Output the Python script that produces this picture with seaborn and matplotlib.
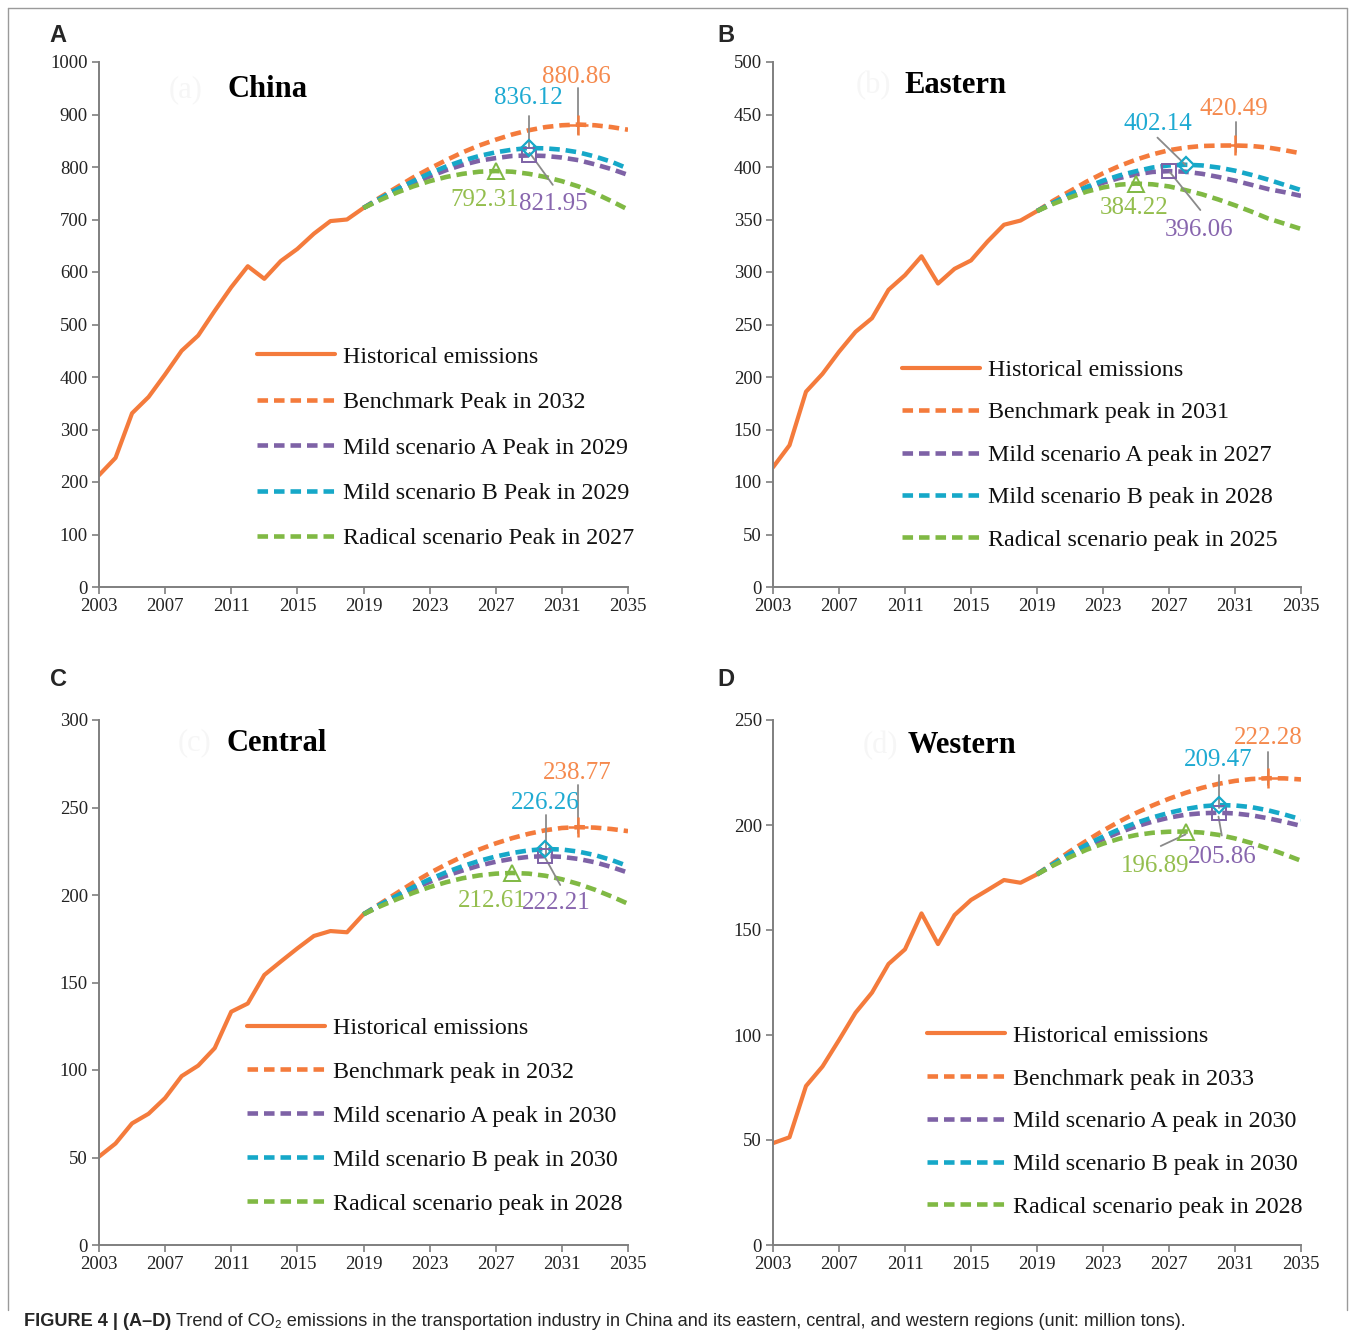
import matplotlib
matplotlib.use('Agg')
import matplotlib.pyplot as plt
import seaborn as sns
from matplotlib.lines import Line2D

# ---- data (million tons of CO2) ----
hist_years = list(range(2003, 2020))
proj_years = list(range(2019, 2036))

china_hist = [213, 246, 331, 362, 405, 450, 479, 526, 571, 611, 587, 621, 644, 673, 697, 700, 722]
china_bench = [722, 742, 761, 780, 797, 813, 828, 841, 852, 862, 870, 876, 879.5, 880.86, 879.5, 876, 871]
china_mild_a = [722, 739, 755, 769, 782, 794, 804, 812, 817, 821, 821.95, 821, 818, 813, 805, 796, 785]
china_mild_b = [722, 740, 757, 773, 788, 801, 812, 821, 828, 833, 836.12, 835.5, 833, 828, 820, 810, 797]
china_radical = [722, 737, 751, 763, 773, 781, 787, 791, 792.31, 791, 787, 781, 773, 763, 750, 735, 719]

east_hist = [114, 135, 186, 203, 224, 243, 256, 283, 297, 315, 289, 303, 311, 329, 345, 349, 358]
east_bench = [358, 368, 377, 386, 394, 401, 407, 412, 416, 418.5, 420, 420.4, 420.49, 420, 418.5, 416, 413]
east_mild_a = [358, 366, 373, 379.5, 385, 389.5, 393, 395.3, 396.06, 395.5, 393.5, 390.5, 387, 383, 379, 376, 372.5]
east_mild_b = [358, 366, 374, 381, 387, 392, 396, 399.5, 401.5, 402.14, 401.5, 399.5, 396.5, 392.5, 388, 383, 378]
east_radical = [358, 365, 371, 376.5, 380.5, 383.2, 384.22, 383.5, 381.5, 378, 374, 369, 363.5, 357.5, 351, 346, 341]

central_hist = [50.5, 58, 69.5, 75, 84, 96.5, 102.5, 112.5, 133.3, 138, 154.3, 162, 169.5, 176.6, 179.4, 178.7, 189]
central_bench = [189, 195, 201, 207, 212.5, 217.5, 222, 226, 229.5, 232.5, 235, 237, 238.3, 238.77, 238.5, 237.7, 236.5]
central_mild_a = [189, 194, 199, 203.5, 207.5, 211, 214, 216.8, 219, 220.7, 221.8, 222.21, 221.8, 220.6, 218.7, 216, 212.8]
central_mild_b = [189, 194.5, 199.5, 204.5, 209, 213, 216.5, 219.5, 222, 224, 225.5, 226.26, 226, 224.8, 222.8, 220, 216.5]
central_radical = [189, 193.5, 197.5, 201.2, 204.5, 207.3, 209.6, 211.2, 212.2, 212.61, 212.2, 211, 209, 206.3, 203, 199.2, 195]

west_hist = [48.5, 51.3, 75.7, 85, 97.6, 110.6, 120.2, 133.8, 140.8, 157.9, 143.3, 157.1, 164.3, 169, 173.8, 172.5, 176.5]
west_bench = [176.5, 182, 187.5, 192.5, 197.3, 201.7, 205.7, 209.3, 212.5, 215.3, 217.7, 219.6, 221, 221.9, 222.28, 222.2, 221.7]
west_mild_a = [176.5, 181.2, 185.7, 189.7, 193.3, 196.5, 199.3, 201.6, 203.5, 204.9, 205.6, 205.86, 205.5, 204.6, 203.2, 201.5, 199.6]
west_mild_b = [176.5, 181.5, 186.3, 190.6, 194.5, 198, 201, 203.6, 205.8, 207.6, 208.9, 209.47, 209.3, 208.5, 207, 205, 202.7]
west_radical = [176.5, 180.8, 184.7, 188.2, 191.1, 193.5, 195.2, 196.3, 196.8, 196.89, 196.4, 195.3, 193.6, 191.4, 188.8, 186, 183]

# peak (year, value) per scenario: benchmark, mild A, mild B, radical
china_peaks = [(2032, 880.86), (2029, 821.95), (2029, 836.12), (2027, 792.31)]
east_peaks = [(2031, 420.49), (2027, 396.06), (2028, 402.14), (2025, 384.22)]
central_peaks = [(2032, 238.77), (2030, 222.21), (2030, 226.26), (2028, 212.61)]
west_peaks = [(2033, 222.28), (2030, 205.86), (2030, 209.47), (2028, 196.89)]

china_legend = ['Historical emissions', 'Benchmark Peak in 2032', 'Mild scenario A Peak in 2029',
                'Mild scenario B Peak in 2029', 'Radical scenario Peak in 2027']
east_legend = ['Historical emissions', 'Benchmark peak in 2031', 'Mild scenario A peak in 2027',
               'Mild scenario B peak in 2028', 'Radical scenario peak in 2025']
central_legend = ['Historical emissions', 'Benchmark peak in 2032', 'Mild scenario A peak in 2030',
                  'Mild scenario B peak in 2030', 'Radical scenario peak in 2028']
west_legend = ['Historical emissions', 'Benchmark peak in 2033', 'Mild scenario A peak in 2030',
               'Mild scenario B peak in 2030', 'Radical scenario peak in 2028']

# ---- style ----
ORANGE = '#F47B3C'
PURPLE = '#7E62A6'
CYAN = '#16A8C8'
GREEN = '#80B944'
SCEN_COLORS = [ORANGE, PURPLE, CYAN, GREEN]
LABEL_COLORS = ['#F58A4E', '#8866AE', '#1EAAD2', '#94BE4E']
MARKERS = [dict(marker='+', ms=15, mew=1.8), dict(marker='s', ms=10, mew=1.4, mfc='none'),
           dict(marker='D', ms=8, mew=1.6, mfc='none'), dict(marker='^', ms=12, mew=1.4, mfc='none')]
GRAY = '#8a8a8a'

sns.set_theme(style='white')
plt.rcParams['font.family'] = ['Liberation Serif', 'DejaVu Serif']

fig = plt.figure(figsize=(13.55, 13.36), dpi=100)
W, H = 1355, 1336


def add_axes(x0, x1, y_top, y_bot):
    return fig.add_axes([x0 / W, 1 - y_bot / H, (x1 - x0) / W, (y_bot - y_top) / H])


panels = [
    dict(ax=add_axes(99, 628, 62, 587), hist=china_hist,
         scen=[china_bench, china_mild_a, china_mild_b, china_radical], peaks=china_peaks,
         legend=china_legend, ymax=1000, ystep=100, title='China', ghost='(a)',
         title_xy=(0.318, 0.947), leg_xy=(0.299, 0.459), leg_sp=0.98, letter='A', letter_xy=(58, 35),
         # label position (x, y) and leader line ((x0, y0), (x1, y1)) per scenario
         labels=[((2031.9, 971), ((2032, 950), (2032, 862))),
                 ((2030.5, 730), ((2029.05, 827), (2030.45, 766))),
                 ((2028.95, 931), ((2029, 897), (2029, 836))),
                 ((2026.35, 737), None)]),
    dict(ax=add_axes(773, 1301, 62, 587), hist=east_hist,
         scen=[east_bench, east_mild_a, east_mild_b, east_radical], peaks=east_peaks,
         legend=east_legend, ymax=500, ystep=50, title='Eastern', ghost='(b)',
         title_xy=(0.345, 0.956), leg_xy=(0.244, 0.434), leg_sp=0.86, letter='B', letter_xy=(726, 35),
         labels=[((2030.94, 455), ((2031.05, 443), (2031.05, 414))),
                 ((2028.8, 340), ((2027.06, 395), (2028.9, 359))),
                 ((2026.3, 441), ((2026.3, 428), (2028.0, 402))),
                 ((2024.9, 361), None)]),
    dict(ax=add_axes(99, 628, 720, 1245), hist=central_hist,
         scen=[central_bench, central_mild_a, central_mild_b, central_radical], peaks=central_peaks,
         legend=central_legend, ymax=300, ystep=50, title='Central', ghost='(c)',
         title_xy=(0.335, 0.956), leg_xy=(0.280, 0.434), leg_sp=0.92, letter='C', letter_xy=(58, 680),
         labels=[((2031.9, 269.7), ((2032, 263), (2032, 235.4))),
                 ((2030.65, 195.4), ((2030, 221.1), (2030.9, 205.7))),
                 ((2030.0, 252.6), ((2030.05, 245.7), (2030.05, 222.9))),
                 ((2026.8, 196.6), None)]),
    dict(ax=add_axes(773, 1301, 720, 1245), hist=west_hist,
         scen=[west_bench, west_mild_a, west_mild_b, west_radical], peaks=west_peaks,
         legend=west_legend, ymax=250, ystep=50, title='Western', ghost='(d)',
         title_xy=(0.358, 0.952), leg_xy=(0.292, 0.419), leg_sp=0.87, letter='D', letter_xy=(726, 680),
         labels=[((2033.0, 241.4), ((2033, 234.8), (2033, 219.1))),
                 ((2030.2, 184.7), ((2030, 204), (2030.2, 195))),
                 ((2030.0, 230.9), ((2030, 223.8), (2030, 208.1))),
                 ((2026.15, 180.4), ((2026.5, 190), (2028.0, 195.5)))]),
]

for p in panels:
    ax = p['ax']
    sns.lineplot(x=hist_years, y=p['hist'], ax=ax, color=ORANGE, lw=3.0, label=p['legend'][0])
    for vals, col, lab in zip(p['scen'], SCEN_COLORS, p['legend'][1:]):
        sns.lineplot(x=proj_years, y=vals, ax=ax, color=col, lw=3.3, ls=(0, (2.3, 1.3)), label=lab)

    # leader lines, peak markers and peak values
    for (py, pv), col, lcol, mk, (lxy, seg) in zip(p['peaks'], SCEN_COLORS, LABEL_COLORS, MARKERS, p['labels']):
        if seg is not None:
            ax.plot([seg[0][0], seg[1][0]], [seg[0][1], seg[1][1]], color=GRAY, lw=1.3, zorder=5)
        ax.plot([py], [pv], color=col, ls='none', zorder=6, **mk)
        ax.text(lxy[0], lxy[1], f'{pv:.2f}', color=lcol, fontsize=18, ha='center', va='center', zorder=7)

    ax.set_xlim(2003, 2035)
    ax.set_ylim(0, p['ymax'])
    ax.set_xticks(range(2003, 2036, 4))
    ax.set_yticks(range(0, p['ymax'] + 1, p['ystep']))
    ax.tick_params(axis='both', which='major', labelsize=13.5, colors='#222222', direction='out',
                   length=5, width=1.2, color='#7f7f7f', pad=3, bottom=True, left=True)
    for s in ['top', 'right']:
        ax.spines[s].set_visible(False)
    for s in ['left', 'bottom']:
        ax.spines[s].set_color('#7f7f7f')
        ax.spines[s].set_linewidth(1.4)
    ax.set_xlabel('')
    ax.set_ylabel('')
    ax.grid(False)

    ax.text(p['title_xy'][0] - 0.155, p['title_xy'][1], p['ghost'], transform=ax.transAxes,
            fontsize=22, color='#f6f6f6', ha='center', va='center')
    ax.text(p['title_xy'][0], p['title_xy'][1], p['title'], transform=ax.transAxes,
            fontsize=22, fontweight='bold', color='black', ha='center', va='center')

    ax.legend(loc='upper left', bbox_to_anchor=p['leg_xy'], frameon=False, fontsize=17.3,
              handlelength=3.25, handletextpad=0.33, labelspacing=p['leg_sp'], borderpad=0,
              borderaxespad=0, labelcolor='#111111')

    fig.text(p['letter_xy'][0] / W, 1 - p['letter_xy'][1] / H, p['letter'], fontsize=17,
             fontweight='bold', family=['Liberation Sans', 'DejaVu Sans'], ha='center', va='center')

# outer frame (open at the bottom)
for (x0, y0), (x1, y1) in [((8, 1310), (8, 8)), ((8, 8), (1347, 8)), ((1347, 8), (1347, 1310))]:
    fig.add_artist(Line2D([x0 / W, x1 / W], [1 - y0 / H, 1 - y1 / H], transform=fig.transFigure,
                          color='#9a9a9a', lw=1.0))

# caption
sans = ['Liberation Sans', 'DejaVu Sans']
cap_y = 1 - 1321 / H
t1 = fig.text(24 / W, cap_y, 'FIGURE 4 | (A\u2013D)', fontsize=13.1, fontweight='bold',
              family=sans, ha='left', va='center')
fig.canvas.draw()
bb = t1.get_window_extent()
fig.text((bb.x1 + 5) / W, cap_y,
         'Trend of CO\u2082 emissions in the transportation industry in China and its eastern, '
         'central, and western regions (unit: million tons).',
         fontsize=13.1, family=sans, ha='left', va='center')

fig.savefig('out.png', dpi=100)
